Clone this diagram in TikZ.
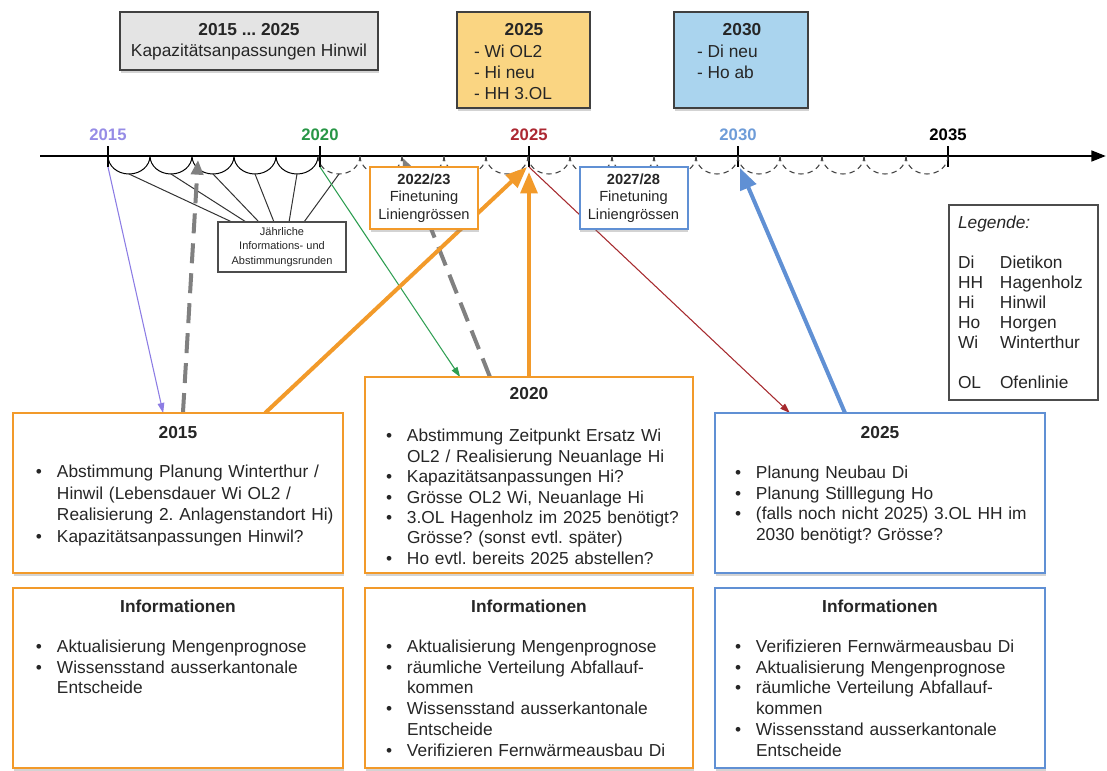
\documentclass[tikz,border=0pt]{standalone}
\usepackage{fontspec}
\setmainfont{Liberation Sans}
\usetikzlibrary{arrows.meta,shadows,calc}
\definecolor{orng}{RGB}{242,154,42}
\definecolor{blu}{RGB}{96,144,212}
\definecolor{ylw}{RGB}{250,213,130}
\definecolor{lblu}{RGB}{170,212,238}
\definecolor{lgray}{RGB}{228,228,228}
\definecolor{purp}{RGB}{140,124,228}
\definecolor{grn}{RGB}{46,158,82}
\definecolor{dred}{RGB}{166,42,46}
\definecolor{gry}{RGB}{128,128,128}
\definecolor{txt}{RGB}{38,38,38}
\definecolor{yc15}{RGB}{150,140,230}
\definecolor{yc20}{RGB}{40,150,70}
\definecolor{yc25}{RGB}{172,40,50}
\definecolor{yc30}{RGB}{110,156,216}
\pgfdeclarelayer{back}
\pgfdeclarelayer{mid}
\pgfsetlayers{back,mid,main}
\frenchspacing
\newcommand{\bitem}[1]{\par\noindent\hangindent=15.75pt\hangafter=1\makebox[15.75pt][l]{\textbullet}#1\par}
\begin{document}
\begin{tikzpicture}[x=0.75pt,y=-0.75pt,
  every node/.style={inner sep=0pt,outer sep=0pt,text=txt},
  shad/.style={drop shadow={shadow xshift=0.6pt,shadow yshift=-2.6pt,opacity=0.35}},
  mainbox/.style={draw=orng,line width=2pt,fill=white,shad},
  bluebox/.style={draw=blu,line width=2pt,fill=white,shad},
  topbox/.style={draw=black!75,line width=1.2pt,shad},
  ftbox/.style={fill=white,line width=1.5pt,shad,minimum width=81pt,minimum height=46.5pt,align=center,font=\fontsize{11}{13}\selectfont},
  txtbody/.style={anchor=north west,text width=245pt,align=left,font=\fontsize{13}{#1}\selectfont},
  head/.style={font=\fontsize{13}{16}\selectfont\bfseries},
  yearlab/.style={font=\fontsize{12.5}{15}\selectfont\bfseries},
  thinarrow/.style={line width=0.8pt,-{Triangle[length=7.5pt,width=5pt]}},
  bigarrow/.style={line width=3pt,-{Triangle[length=16pt,width=12.5pt]}},
  greyarrow/.style={gry,line width=3pt,dash pattern=on 15pt off 7.5pt,-{Triangle[length=11pt,width=9pt]}},
]
\useasboundingbox (0,0) rectangle (1107,771);

% ---------- timeline ----------
\coordinate (axs) at (40,156);
\coordinate (axe) at (1106,156);
\foreach \n/\x in {0/108,1/320,2/529,3/738,4/948}{
  \coordinate (tk\n) at (\x,167);
  \coordinate (tt\n) at (\x,146);
}
\foreach \i in {0,...,5}{\coordinate (ab\i) at ({129+42*\i},174);}
\begin{pgfonlayer}{back}
\draw[line width=2pt,-{Triangle[length=11pt,width=8pt]}] (axs) -- (axe);
\foreach \n in {0,...,4}{\draw[line width=2pt] (tt\n) -- (tk\n);}
\foreach \i in {0,...,4}{\draw[line width=0.75pt] ({108+42*\i},156) arc[start angle=180,end angle=0,x radius=21,y radius=18];}
\foreach \i in {5,...,19}{\draw[line width=0.8pt,black!75,dash pattern=on 4pt off 3pt] ({108+42*\i},156) arc[start angle=180,end angle=0,x radius=21,y radius=18];}
\end{pgfonlayer}

\node[yearlab,text=yc15] (y15) at (108,135) {2015};
\node[yearlab,text=yc20] (y20) at (320,135) {2020};
\node[yearlab,text=yc25] (y25) at (529,135) {2025};
\node[yearlab,text=yc30] (y30) at (738,135) {2030};
\node[yearlab,text=black] (y35) at (948,135) {2035};

% ---------- top boxes ----------
\node[topbox,fill=lgray,minimum width=193.5pt,minimum height=43.5pt] (tg) at (249,41) {};
\node[align=center,font=\fontsize{13}{15.75}\selectfont] (tgt) at (249,41.5) {\textbf{2015 ... 2025}\\Kapazitätsanpassungen Hinwil};

\node[topbox,fill=ylw,minimum width=99.75pt,minimum height=72pt] (ty) at (523.5,60) {};
\node[head] (tyh) at (524,30) {2025};
\node[anchor=north west,font=\fontsize{13}{15.75}\selectfont] (tyt) at (474,42.6) {\begin{tabular}{@{}l@{}}- Wi OL2\\- Hi neu\\- HH 3.OL\end{tabular}};

\node[topbox,fill=lblu,minimum width=100.5pt,minimum height=72pt] (tb) at (741,60) {};
\node[head] (tbh) at (742,30) {2030};
\node[anchor=north west,font=\fontsize{13}{15.75}\selectfont] (tbt) at (697,42.6) {\begin{tabular}{@{}l@{}}- Di neu\\- Ho ab\end{tabular}};

% ---------- main boxes ----------
\node[mainbox,minimum width=247.5pt,minimum height=120pt] (b15) at (178,493) {};
\node[mainbox,minimum width=246pt,minimum height=147pt] (b20) at (529,475) {};
\node[bluebox,minimum width=247.5pt,minimum height=120pt] (b25) at (880,493) {};
\node[mainbox,minimum width=247.5pt,minimum height=135pt] (i15) at (178,678) {};
\node[mainbox,minimum width=246pt,minimum height=135pt] (i20) at (529,678) {};
\node[bluebox,minimum width=247.5pt,minimum height=135pt] (i25) at (880,678) {};

\node[head] (h15) at (178,433) {2015};
\node[head] (h20) at (529,394) {2020};
\node[head] (h25) at (880,433) {2025};
\node[head] (hi15) at (178,606) {Informationen};
\node[head] (hi20) at (529,606) {Informationen};
\node[head] (hi25) at (880,606) {Informationen};

\node[txtbody=16.1] (c15) at (36,456.4) {%
\bitem{Abstimmung Planung Winterthur /\newline Hinwil (Lebensdauer Wi OL2 /\newline Realisierung 2. Anlagenstandort Hi)}
\bitem{Kapazitätsanpassungen Hinwil?}};
\node[txtbody=15.3] (c20) at (386,421.4) {%
\bitem{Abstimmung Zeitpunkt Ersatz Wi\newline OL2 / Realisierung Neuanlage Hi}
\bitem{Kapazitätsanpassungen Hi?}
\bitem{Grösse OL2 Wi, Neuanlage Hi}
\bitem{3.OL Hagenholz im 2025 benötigt?\newline Grösse? (sonst evtl. später)}
\bitem{Ho evtl. bereits 2025 abstellen?}};
\node[txtbody=15.6] (c25) at (735,457.4) {%
\bitem{Planung Neubau Di}
\bitem{Planung Stilllegung Ho}
\bitem{(falls noch nicht 2025) 3.OL HH im\newline 2030 benötigt? Grösse?}};

\node[txtbody=15.6] (ci15) at (36,631.4) {%
\bitem{Aktualisierung Mengenprognose}
\bitem{Wissensstand ausserkantonale\newline Entscheide}};
\node[txtbody=15.6] (ci20) at (386,631.4) {%
\bitem{Aktualisierung Mengenprognose}
\bitem{räumliche Verteilung Abfallauf-\newline kommen}
\bitem{Wissensstand ausserkantonale\newline Entscheide}
\bitem{Verifizieren Fernwärmeausbau Di}};
\node[txtbody=15.6] (ci25) at (735,631.4) {%
\bitem{Verifizieren Fernwärmeausbau Di}
\bitem{Aktualisierung Mengenprognose}
\bitem{räumliche Verteilung Abfallauf-\newline kommen}
\bitem{Wissensstand ausserkantonale\newline Entscheide}};

% ---------- small boxes ----------
\node[ftbox,draw=orng] (ft1) at (424,198) {\textbf{2022/23}\\Finetuning\\Liniengrössen};
\node[ftbox,draw=blu] (ft2) at (633.5,198) {\textbf{2027/28}\\Finetuning\\Liniengrössen};
\node[draw=black!70,line width=0.8pt,fill=white,minimum width=96pt,minimum height=37.5pt,align=center,font=\fontsize{8.25}{10.9}\selectfont] (jb) at (282,247) {Jährliche\\Informations- und\\Abstimmungsrunden};

% ---------- legend ----------
\node[draw=black!70,line width=0.9pt,fill=white,minimum width=111.75pt,minimum height=146.25pt] (lg) at (1023.5,302.5) {};
\node[anchor=north west,font=\fontsize{13}{15}\selectfont] (lgt) at (958,214) {%
\begin{tabular}{@{}p{31.5pt}@{}l@{}}
\multicolumn{2}{@{}l@{}}{\itshape Legende:}\\
&\\
Di & Dietikon\\
HH & Hagenholz\\
Hi & Hinwil\\
Ho & Horgen\\
Wi & Winterthur\\
&\\
OL & Ofenlinie
\end{tabular}};

% ---------- connectors ----------
\begin{pgfonlayer}{mid}
\foreach \i/\f in {0/0.109,1/0.219,2/0.32,3/0.4375,4/0.555,5/0.672}{
  \draw[line width=0.75pt,black!80] (ab\i) -- ($(jb.north west)!\f!(jb.north east)$);
}
\draw[thinarrow,purp] (tk0) -- ($(b15.north west)!0.455!(b15.north east)$);
\draw[thinarrow,grn] (tk1) -- ($(b20.north west)!0.29!(b20.north east)$);
\draw[thinarrow,dred] (tk2) -- ($(b25.north west)!0.227!(b25.north east)$);
\coordinate (g1) at (198,160);
\coordinate (g2) at (403,158);
\draw[greyarrow] ($(b15.north west)!0.515!(b15.north east)$) -- (g1);
\draw[greyarrow] ($(b20.north west)!0.381!(b20.north east)$) -- (g2);
\coordinate (o1) at (527,167);
\coordinate (o2) at (529,172);
\coordinate (bl) at (740,168);
\draw[bigarrow,orng] ($(b15.north west)!0.764!(b15.north east)$) -- (o1);
\draw[bigarrow,orng] (b20.north) -- (o2);
\draw[bigarrow,blu] ($(b25.north west)!0.394!(b25.north east)$) -- (bl);
\end{pgfonlayer}
\end{tikzpicture}
\end{document}
